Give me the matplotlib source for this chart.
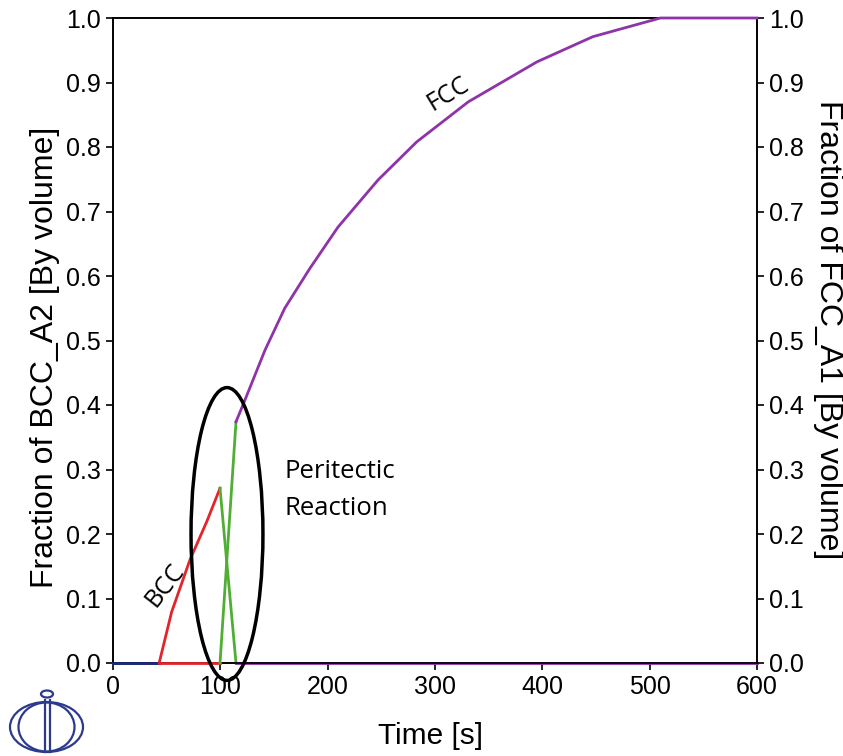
import matplotlib
matplotlib.use("Agg")
import matplotlib.pyplot as plt
from matplotlib.patches import Ellipse

plt.rcParams['font.family'] = ['Liberation Sans', 'DejaVu Sans']

# Datos
tiempo_bcc = [0, 43, 54.6, 71.7, 87.3, 99.7, 114.6, 600]
frac_bcc = [0, 0, 0.079, 0.160, 0.219, 0.271, 0, 0]

tiempo_fcc = [0, 43, 99.7, 114.6, 123, 141.6, 160, 183.5, 209.7, 247, 283, 331, 395, 447, 510, 600]
frac_fcc = [0, 0, 0, 0.374, 0.408, 0.485, 0.550, 0.612, 0.676, 0.749, 0.808, 0.870, 0.932, 0.971, 1.0, 1.0]

# Tramos de color: (inicio, fin, color)
tramos = [(0, 43, '#1c2a78'), (43, 99.7, '#e3242b'), (99.7, 114.6, '#4fae33'), (114.6, 600, '#8e33a8')]


def dibujar_tramos(ax, t, f):
    for ini, fin, color in tramos:
        xs = [x for x in t if ini <= x <= fin]
        ys = [y for x, y in zip(t, f) if ini <= x <= fin]
        ax.plot(xs, ys, color=color, lw=2.0, clip_on=False, zorder=3)


W, H = 843, 756
fig = plt.figure(figsize=(W / 100, H / 100), dpi=100)
ax = fig.add_axes([113 / W, 1 - 663 / H, 644 / W, 645 / H])
ax2 = ax.twinx()

dibujar_tramos(ax, tiempo_bcc, frac_bcc)
dibujar_tramos(ax2, tiempo_fcc, frac_fcc)

for a in (ax, ax2):
    a.set_xlim(0, 600)
    a.set_ylim(0, 1.0)
    a.set_yticks([i / 10 for i in range(11)])
    a.tick_params(labelsize=18, direction='out', length=5, width=1.2)
    for s in a.spines.values():
        s.set_linewidth(1.2)

ax.set_xticks([0, 100, 200, 300, 400, 500, 600])

# Titulos de los ejes
fig.text(430 / W, 1 - 736 / H, "Time [s]", fontsize=21.5, ha='center', va='center')
fig.text(45 / W, 1 - 357 / H, "Fraction of BCC_A2 [By volume]", fontsize=23,
         rotation=90, ha='center', va='center')
fig.text(828 / W, 1 - 330 / H, "Fraction of FCC_A1 [By volume]", fontsize=23,
         rotation=270, ha='center', va='center')

# Anotaciones
fuente = ['Open Sans', 'DejaVu Sans']
ax2.text(48.5, 0.121, "BCC", rotation=52, fontsize=18, family=fuente, ha='center', va='center')
ax2.text(312, 0.882, "FCC", rotation=31, fontsize=18, family=fuente, ha='center', va='center')
ax2.text(160, 0.268, "Peritectic\nReaction", fontsize=18.5, family=fuente, ha='left', va='center',
         linespacing=1.6)
ax2.add_patch(Ellipse((106.2, 0.20), 67, 0.454, fill=False, ec='black', lw=2.5, clip_on=False, zorder=4))

# Logo
logo = fig.add_axes([0, 0, 100 / W, 70 / H])
logo.set_xlim(0, 100)
logo.set_ylim(756, 686)
logo.axis('off')
azul = '#2b3a8c'
logo.add_patch(Ellipse((46.5, 727), 73, 50, fill=False, ec=azul, lw=1.6))
logo.add_patch(Ellipse((46.5, 727), 56, 49, fill=False, ec=azul, lw=1.6))
logo.add_patch(Ellipse((47, 694), 12, 7, fill=False, ec=azul, lw=1.6))
logo.plot([45, 45], [700, 752], color=azul, lw=1.6)
logo.plot([50, 50], [700, 752], color=azul, lw=1.6)

fig.savefig("out.png", dpi=100)
